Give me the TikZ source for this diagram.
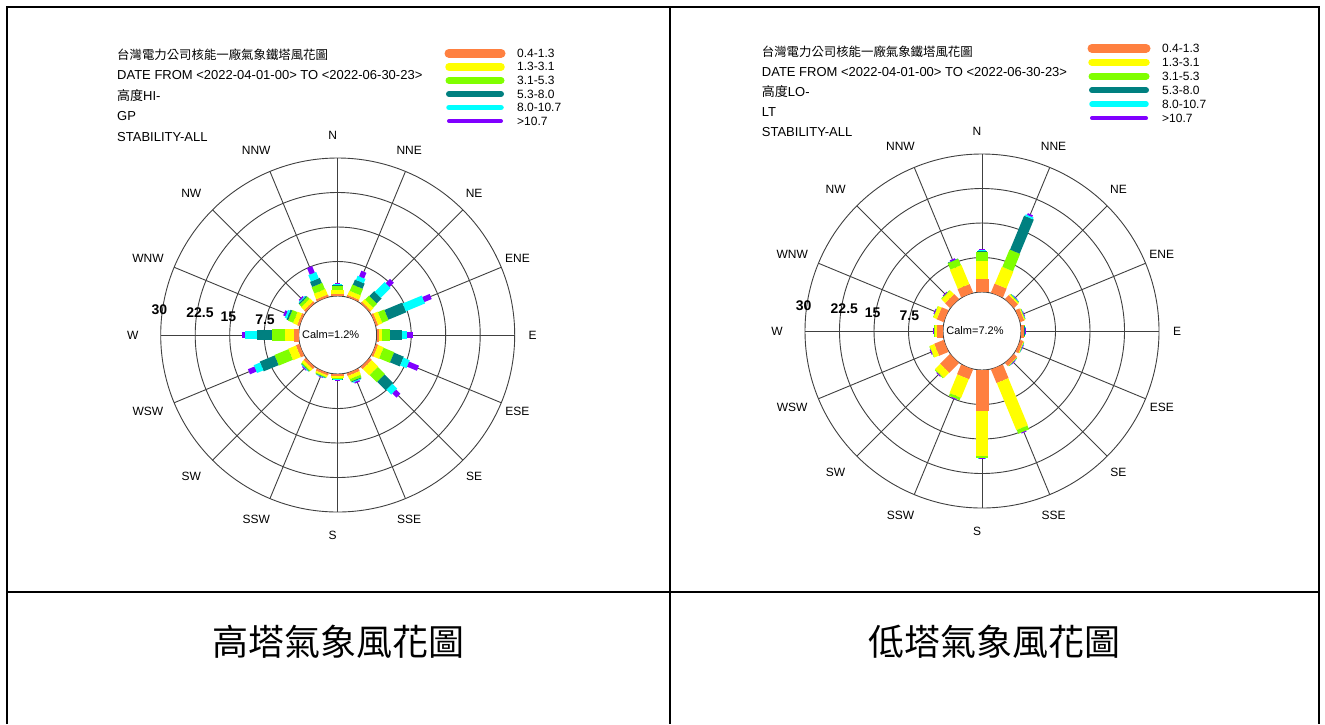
\documentclass[tikz,border=0pt]{standalone}
\usepackage{fontspec}
\setmainfont{Liberation Sans}
\newfontfamily\cjk{Noto Sans CJK TC}
\usetikzlibrary{positioning}
\definecolor{bandA}{HTML}{FF8040}
\definecolor{bandB}{HTML}{FFFF00}
\definecolor{bandC}{HTML}{80FF00}
\definecolor{bandD}{HTML}{008080}
\definecolor{bandE}{HTML}{00FFFF}
\definecolor{bandF}{HTML}{8000FF}
\tikzset{
  gridline/.style={draw=black!75, line width=0.9pt},
  dirlabel/.style={font=\fontsize{12}{12}\selectfont, inner sep=0pt, xshift=-5pt},
  ringlabel/.style={font=\bfseries\fontsize{14}{14}\selectfont, inner sep=0pt},
  infotext/.style={anchor=west, inner sep=0pt, font=\fontsize{13}{13}\selectfont},
  legendtext/.style={inner sep=0pt, font=\fontsize{12}{12}\selectfont},
  tablerule/.style={line width=2pt},
}
% polar grid, compass names and ring values of one rose
\newcommand{\roseframe}[1]{%
  \foreach \r in {39,73.5,108,142.5,177} \draw[gridline] (0,0) circle (\r);
  \foreach \i in {0,...,15} \draw[gridline] ({22.5*\i}:39) -- ({22.5*\i}:177);
  \foreach \d [count=\i from 0] in {N,NNE,NE,ENE,E,ESE,SE,SSE,S,SSW,SW,WSW,W,WNW,NW,NNW}
    \node[dirlabel] (#1-\d) at ({90-22.5*\i}:200) {\d};
  \node[ringlabel] (#1-r30) at (-178.4,25.7) {30};
  \node[ringlabel] (#1-r22) at (-137.7,22.3) {22.5};
  \node[ringlabel] (#1-r15) at (-109.3,18.3) {15};
  \node[ringlabel] (#1-r7) at (-72.7,15) {7.5};
}
% one stacked bar: direction, then percent per speed class
\newcommand{\windbar}[7]{%
  \pgfmathsetmacro\barang{90-#1}
  \pgfmathsetmacro\rA{39+4.6*#2}
  \pgfmathsetmacro\rB{\rA+4.6*#3}
  \pgfmathsetmacro\rC{\rB+4.6*#4}
  \pgfmathsetmacro\rD{\rC+4.6*#5}
  \pgfmathsetmacro\rE{\rD+4.6*#6}
  \pgfmathsetmacro\rF{\rE+4.6*#7}
  \draw[bandA, line width=13pt] (\barang:39) -- (\barang:\rA);
  \draw[bandB, line width=12.5pt] (\barang:\rA) -- (\barang:\rB);
  \draw[bandC, line width=11.5pt] (\barang:\rB) -- (\barang:\rC);
  \draw[bandD, line width=10.5pt] (\barang:\rC) -- (\barang:\rD);
  \draw[bandE, line width=8.5pt] (\barang:\rD) -- (\barang:\rE);
  \draw[bandF, line width=5.5pt] (\barang:\rE) -- (\barang:\rF);
}
\begin{document}
\begin{tikzpicture}[x=1pt, y=1pt]
  \useasboundingbox (0,0) rectangle (1325,-724);
  \fill[white] (0,0) rectangle (1325,-724);

  % table
  \draw[tablerule] (7,-724) -- (7,-6.5) -- (1318.5,-6.5) -- (1318.5,-724);
  \draw[tablerule] (670,-6.5) -- (670,-724);
  \draw[tablerule] (7,-592.3) -- (1318.5,-592.3);

  % high tower
  \node[infotext, font=\cjk\fontsize{12.4}{13}\selectfont] (hi-title) at (117,-55) {台灣電力公司核能一廠氣象鐵塔風花圖};
  \node[infotext] (hi-date) at (117,-75) {DATE FROM <2022-04-01-00> TO <2022-06-30-23>};
  \node[infotext] (hi-level) at (117,-95.5) {{\cjk 高度}HI-};
  \node[infotext] (hi-site) at (117,-116) {GP};
  \node[infotext] (hi-stab) at (117,-136.7) {STABILITY-ALL};
  \foreach \lab/\col/\w [count=\k] in {0.4-1.3/bandA/9,1.3-3.1/bandB/7.5,3.1-5.3/bandC/7,
      5.3-8.0/bandD/6,8.0-10.7/bandE/5.5,>10.7/bandF/4} {
    \coordinate (hi-sw\k) at (501,{-53.3-13.55*(\k-1)});
    \draw[\col, line width=\w pt, line cap=round] (449,{-53.3-13.55*(\k-1)}) -- (hi-sw\k);
    \node[legendtext, right=16pt of hi-sw\k] (hi-lab\k) {\lab};
  }
  \begin{scope}[shift={(337.7,-335)}]
    \roseframe{hi}
    \foreach \ang/\a/\b/\c/\d/\e/\f in {
        0/0.4/0.9/0.8/0.3/0.2/0.2, 22.5/0.4/1.0/1.5/1.2/1.0/1.3,
        45/0.4/0.8/1.2/1.5/3.0/1.3, 67.5/0.5/1.0/1.5/4.2/4.5/1.7,
        90/0.4/0.8/1.6/2.8/1.0/1.2, 112.5/0.5/1.3/2.5/2.3/1.5/2.3,
        135/0.6/2.0/2.2/2.6/1.5/1.3, 157.5/0.6/0.8/0.6/0.2/0.2/0.3,
        180/0.5/0.3/0.2/0.1/0.1/0.1, 202.5/0.5/0.4/0.2/0.1/0.1/0.1,
        225/0.6/0.6/0.3/0.1/0.1/0.2, 247.5/0.8/1.8/3.3/3.5/1.5/1.5,
        270/1.1/1.8/2.9/3.3/2.5/0.8, 292.5/0.5/1.0/1.2/0.4/0.5/0.5,
        315/0.5/0.9/0.7/0.3/0.2/0.3, 337.5/0.5/1.3/1.5/1.2/1.5/1.5}
      \windbar{\ang}{\a}{\b}{\c}{\d}{\e}{\f};
    \node[legendtext, font=\fontsize{11}{11}\selectfont] (hi-calm) at (-7,0) {Calm=1.2\%};
  \end{scope}
  \node[font=\cjk\fontsize{36}{40}\selectfont] (hi-caption) at (338.5,-642) {高塔氣象風花圖};

  % low tower
  \node[infotext, font=\cjk\fontsize{12.4}{13}\selectfont] (lo-title) at (761.7,-51.7) {台灣電力公司核能一廠氣象鐵塔風花圖};
  \node[infotext] (lo-date) at (761.7,-71.7) {DATE FROM <2022-04-01-00> TO <2022-06-30-23>};
  \node[infotext] (lo-level) at (761.7,-91.7) {{\cjk 高度}LO-};
  \node[infotext] (lo-site) at (761.7,-111.7) {LT};
  \node[infotext] (lo-stab) at (761.7,-131.7) {STABILITY-ALL};
  \foreach \lab/\col/\w [count=\k] in {0.4-1.3/bandA/9,1.3-3.1/bandB/7.5,3.1-5.3/bandC/7,
      5.3-8.0/bandD/6,8.0-10.7/bandE/5.5,>10.7/bandF/4} {
    \coordinate (lo-sw\k) at (1146,{-48.3-13.95*(\k-1)});
    \draw[\col, line width=\w pt, line cap=round] (1092,{-48.3-13.95*(\k-1)}) -- (lo-sw\k);
    \node[legendtext, right=16pt of lo-sw\k] (lo-lab\k) {\lab};
  }
  \begin{scope}[shift={(982,-331)}]
    \roseframe{lo}
    \foreach \ang/\a/\b/\c/\d/\e/\f in {
        0/2.8/3.9/2.0/0.3/0.1/0.3, 22.5/2.1/4.0/4.1/8.0/0.4/0.4,
        45/1.2/0.3/0.1/0.1/0.05/0.1, 67.5/0.9/0.2/0.1/0.05/0.05/0.1,
        90/0.6/0.1/0.05/0.05/0.05/0.1, 112.5/0.7/0.15/0.05/0.05/0.05/0.1,
        135/0.9/0.1/0.05/0.05/0.05/0.1, 157.5/3.2/11.1/0.9/0/0/0.2,
        180/8.9/9.8/0.4/0/0.05/0.15, 202.5/2.3/4.4/0.6/0/0/0.2,
        225/3.0/1.6/0.2/0/0/0.2, 247.5/2.2/1.1/0.1/0/0/0.2,
        270/1.3/0.7/0.05/0/0/0.15, 292.5/1.6/0.8/0.1/0/0/0.2,
        315/1.5/1.1/0.2/0/0/0.2, 337.5/2.0/4.5/1.5/0.1/0/0.3}
      \windbar{\ang}{\a}{\b}{\c}{\d}{\e}{\f};
    \node[legendtext, font=\fontsize{11}{11}\selectfont] (lo-calm) at (-7,0) {Calm=7.2\%};
  \end{scope}
  \node[font=\cjk\fontsize{36}{40}\selectfont] (lo-caption) at (994,-642) {低塔氣象風花圖};
\end{tikzpicture}
\end{document}
